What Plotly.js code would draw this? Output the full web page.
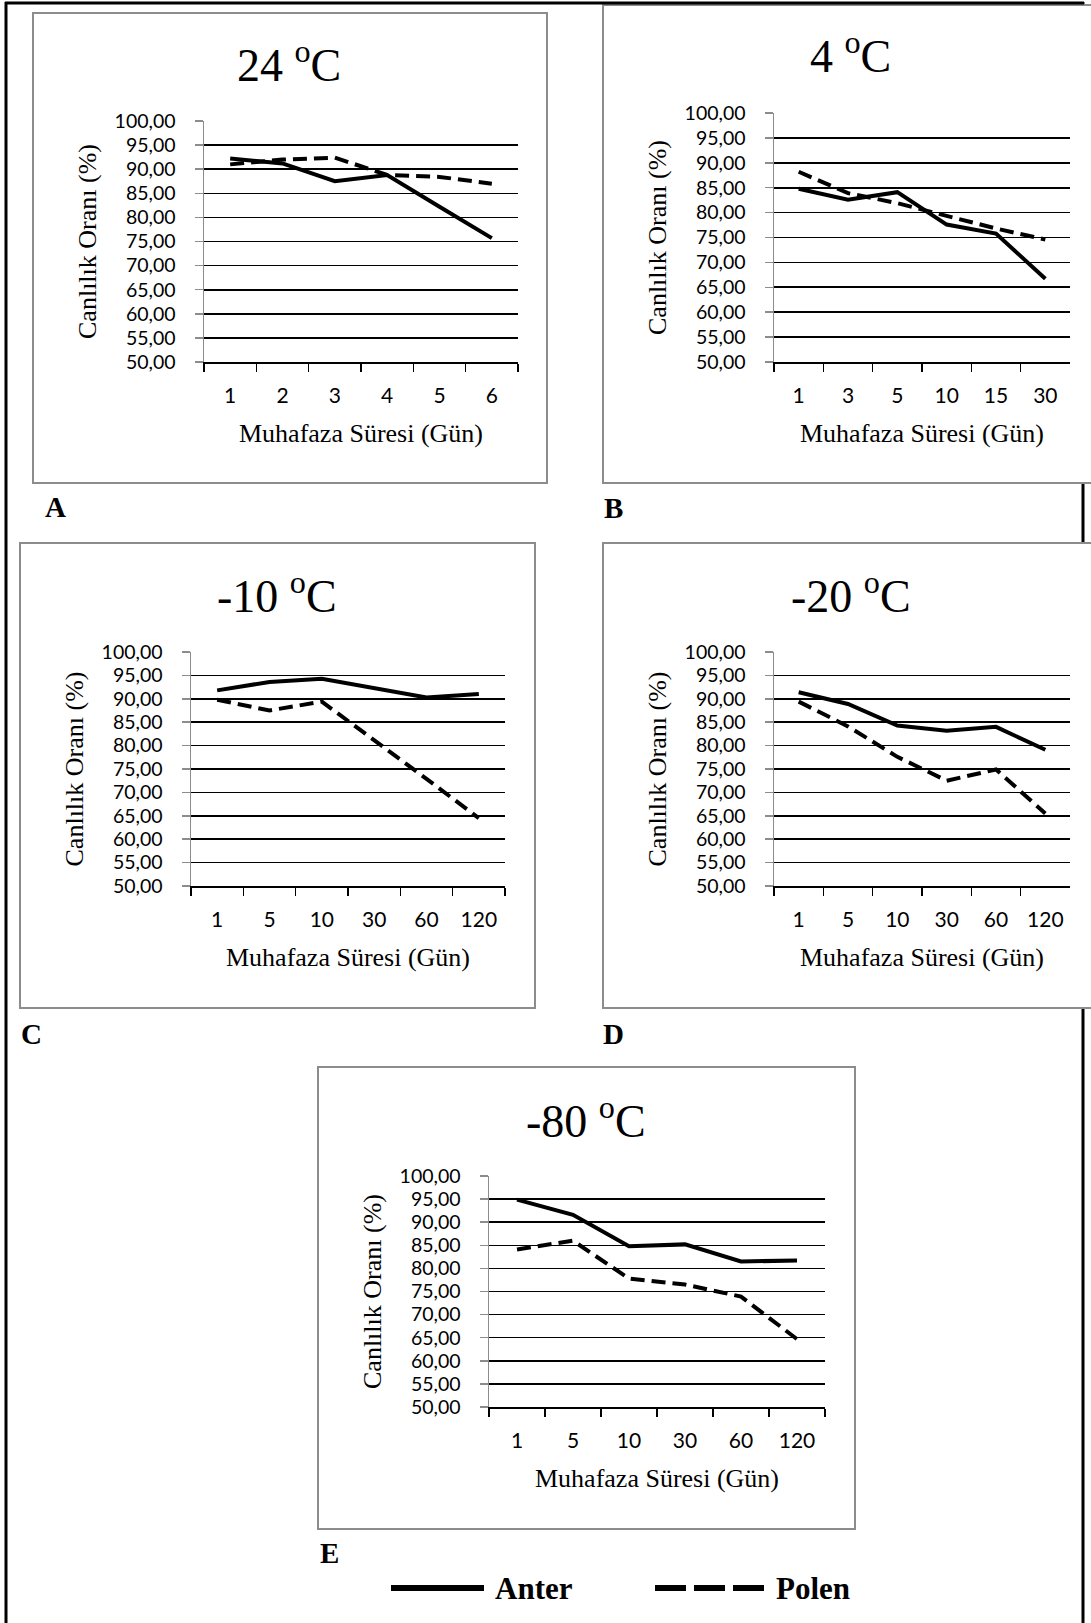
<!DOCTYPE html>
<html><head><meta charset="utf-8">
<script src="https://cdn.plot.ly/plotly-3.0.1.min.js"></script>
<style>html,body{margin:0;padding:0;background:#fff}</style>
</head><body><div id="chart" style="width:1091px;height:1623px"></div>
<script>
// ---------- DATA ----------
const seriesNames = ['Anter', 'Polen'];
const panelTitles = ['24 <sup>o</sup>C', '4 <sup>o</sup>C', '-10 <sup>o</sup>C', '-20 <sup>o</sup>C', '-80 <sup>o</sup>C'];
const panelLetters = ['A', 'B', 'C', 'D', 'E'];
const xAxisTitle = 'Muhafaza Süresi (Gün)';
const yAxisTitle = 'Canlılık Oranı (%)';

const daysA = ['1', '2', '3', '4', '5', '6'];
const anterA = [92.2, 91.2, 87.5, 88.8, 82.2, 75.7];
const polenA = [91.0, 92.0, 92.4, 88.8, 88.4, 87.0];

const daysB = ['1', '3', '5', '10', '15', '30'];
const anterB = [84.8, 82.6, 84.1, 77.6, 75.8, 66.7];
const polenB = [88.2, 83.9, 81.9, 79.3, 76.8, 74.6];

const daysC = ['1', '5', '10', '30', '60', '120'];
const anterC = [91.8, 93.6, 94.3, 92.3, 90.3, 91.0];
const polenC = [89.8, 87.5, 89.4, 81.2, 72.9, 64.5];

const daysD = ['1', '5', '10', '30', '60', '120'];
const anterD = [91.4, 88.9, 84.3, 83.2, 84.0, 79.1];
const polenD = [89.4, 84.1, 77.6, 72.5, 74.9, 65.5];

const daysE = ['1', '5', '10', '30', '60', '120'];
const anterE = [94.9, 91.6, 84.8, 85.2, 81.5, 81.7];
const polenE = [84.1, 86.0, 77.8, 76.5, 73.9, 64.7];

const yTickVals = [50, 55, 60, 65, 70, 75, 80, 85, 90, 95, 100];
const yTickText = ['50,00', '55,00', '60,00', '65,00', '70,00', '75,00', '80,00', '85,00', '90,00', '95,00', '100,00'];

// ---------- LAYOUT GEOMETRY (pixels) ----------
const W = 1091, H = 1623;
const panels = [
  {days: daysA, anter: anterA, polen: polenA, plot: [204, 518, 121, 362], box: [33, 13, 547, 483], title: [289, 62], letter: [55, 507]},
  {days: daysB, anter: anterB, polen: polenB, plot: [774, 1070, 113, 362], box: [603, 5, 1100, 483], title: [850, 53], letter: [613, 508]},
  {days: daysC, anter: anterC, polen: polenC, plot: [191, 505, 652, 886], box: [20, 543, 535, 1008], title: [277, 593], letter: [31, 1034]},
  {days: daysD, anter: anterD, polen: polenD, plot: [774, 1070, 652, 886], box: [603, 543, 1100, 1008], title: [851, 593], letter: [613, 1034]},
  {days: daysE, anter: anterE, polen: polenE, plot: [489, 825, 1176, 1407], box: [318, 1067, 855, 1529], title: [586, 1118], letter: [329, 1553]}
];
const px = x => x / W;
const py = y => 1 - y / H;

const SERIF = 'Liberation Serif, Times New Roman, serif';
const SANS = 'Lato, Carlito, Calibri, sans-serif';

const traces = [];
const layout = {
  width: W, height: H,
  margin: {l: 0, r: 0, t: 0, b: 0},
  paper_bgcolor: '#ffffff',
  plot_bgcolor: 'rgba(0,0,0,0)',
  showlegend: false,
  shapes: [],
  annotations: []
};

// page border
layout.shapes.push({type: 'line', xref: 'paper', yref: 'paper', x0: px(6), x1: px(6), y0: py(2), y1: py(1623), line: {color: '#000', width: 3}, layer: 'below'});
layout.shapes.push({type: 'line', xref: 'paper', yref: 'paper', x0: px(1083), x1: px(1083), y0: py(2), y1: py(1623), line: {color: '#000', width: 3}, layer: 'below'});

panels.forEach((p, i) => {
  const n = i + 1;
  const xa = 'xaxis' + (n === 1 ? '' : n);
  const ya = 'yaxis' + (n === 1 ? '' : n);
  const xr = 'x' + (n === 1 ? '' : n);
  const yr = 'y' + (n === 1 ? '' : n);

  // panel frame (white fill, gray border)
  layout.shapes.push({type: 'rect', xref: 'paper', yref: 'paper',
    x0: px(p.box[0]), x1: px(p.box[2]), y0: py(p.box[3]), y1: py(p.box[1]),
    line: {color: '#8c8c8c', width: 2}, fillcolor: '#ffffff', layer: 'below'});

  traces.push({x: p.days, y: p.anter, name: seriesNames[0], type: 'scatter', mode: 'lines',
    xaxis: xr, yaxis: yr, line: {color: '#000', width: 4}, hoverinfo: 'skip'});
  traces.push({x: p.days, y: p.polen, name: seriesNames[1], type: 'scatter', mode: 'lines',
    xaxis: xr, yaxis: yr, line: {color: '#000', width: 4, dash: '14px,7px'}, hoverinfo: 'skip'});

  layout[xa] = {
    domain: [px(p.plot[0]), px(p.plot[1])],
    anchor: yr, type: 'category', range: [-0.5, 5.5],
    tickson: 'boundaries', ticks: 'outside', ticklen: 8, tickwidth: 1.5, tickcolor: '#000',
    showline: true, linecolor: '#000', linewidth: 1.5, showgrid: false, zeroline: false,
    tickfont: {family: SANS, size: 21, color: '#000'}, ticklabelstandoff: 14,
    title: {text: xAxisTitle, font: {family: SERIF, size: 26, color: '#000'}, standoff: 18},
    automargin: false, fixedrange: true
  };
  layout[ya] = {
    domain: [py(p.plot[3]), py(p.plot[2])],
    anchor: xr, range: [50, 100],
    tickmode: 'array', tickvals: yTickVals, ticktext: yTickText,
    ticks: 'outside', ticklen: 8, tickwidth: 1.5, tickcolor: '#8c8c8c',
    showline: true, linecolor: '#8c8c8c', linewidth: 1.5,
    showgrid: true, gridcolor: '#000', gridwidth: 1.6, zeroline: false,
    tickfont: {family: SANS, size: 19.5, color: '#000'}, ticklabelstandoff: 15,
    title: {text: yAxisTitle, font: {family: SERIF, size: 26, color: '#000'}, standoff: 10},
    automargin: false, fixedrange: true
  };

  layout.annotations.push({xref: 'paper', yref: 'paper', x: px(p.title[0]), y: py(p.title[1]),
    xanchor: 'center', yanchor: 'middle', showarrow: false, text: panelTitles[i],
    font: {family: SERIF, size: 46, color: '#000'}});
  layout.annotations.push({xref: 'paper', yref: 'paper', x: px(p.letter[0]), y: py(p.letter[1]),
    xanchor: 'center', yanchor: 'middle', showarrow: false, text: '<b>' + panelLetters[i] + '</b>',
    font: {family: SERIF, size: 29, color: '#000'}});
});

// top border on top of frames
layout.shapes.push({type: 'line', xref: 'paper', yref: 'paper', x0: px(5), x1: px(1084), y0: py(3), y1: py(3), line: {color: '#000', width: 3}, layer: 'below'});

// legend (drawn as key samples + labels)
const legY = 1588;
layout.shapes.push({type: 'line', xref: 'paper', yref: 'paper', x0: px(391), x1: px(484), y0: py(legY), y1: py(legY), line: {color: '#000', width: 6}});
layout.shapes.push({type: 'line', xref: 'paper', yref: 'paper', x0: px(655), x1: px(765), y0: py(legY), y1: py(legY), line: {color: '#000', width: 6, dash: '31px,8px'}});
layout.annotations.push({xref: 'paper', yref: 'paper', x: px(493), y: py(legY), xanchor: 'left', yanchor: 'middle', showarrow: false,
  text: '<b>' + seriesNames[0] + '</b>', font: {family: SERIF, size: 31, color: '#000'}});
layout.annotations.push({xref: 'paper', yref: 'paper', x: px(774), y: py(legY), xanchor: 'left', yanchor: 'middle', showarrow: false,
  text: '<b>' + seriesNames[1] + '</b>', font: {family: SERIF, size: 31, color: '#000'}});

Plotly.newPlot('chart', traces, layout, {staticPlot: true, displayModeBar: false});
</script>
</body></html>
